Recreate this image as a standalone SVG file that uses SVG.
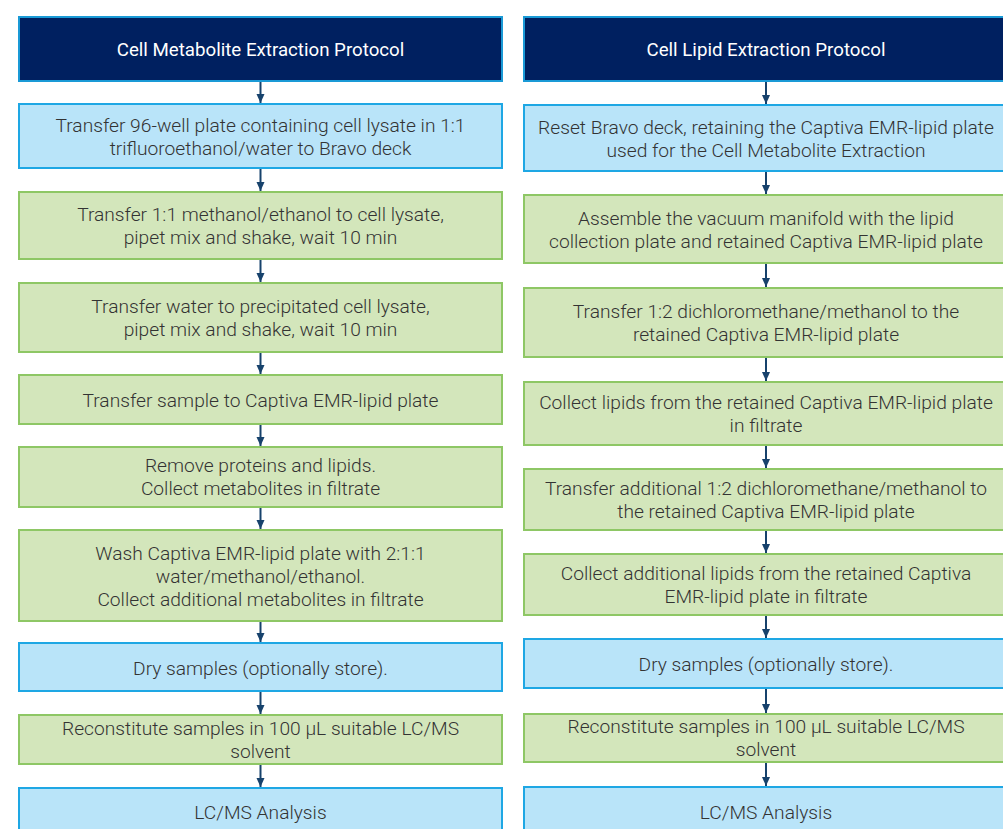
<svg xmlns="http://www.w3.org/2000/svg" width="1003" height="829" viewBox="0 0 1003 829">
<defs>
<style>
.hd{fill:#002060;stroke:#1a9ad6;stroke-width:2}
.bl{fill:#b9e4f9;stroke:#1ea7e4;stroke-width:2}
.gr{fill:#d3e6bb;stroke:#8ec765;stroke-width:2}
text{font-family:Roboto,"Liberation Sans",sans-serif;font-weight:300;font-size:19.2px;text-anchor:middle;fill:#333333}
.ht{fill:#ffffff;font-weight:400;font-size:18.7px}
.cn line{stroke:#17426c;stroke-width:2;marker-end:url(#ah)}
</style>
<marker id="ah" markerUnits="userSpaceOnUse" markerWidth="10" markerHeight="10" viewBox="0 0 10 10" refX="9" refY="5" orient="auto">
<path d="M0,1 L9,5 L0,9 Z" fill="#17426c"/>
</marker>
</defs>
<rect width="1003" height="829" fill="#ffffff"/>
<g id="connectors" class="cn">
<line x1="260.5" y1="82" x2="260.5" y2="103"/>
<line x1="260.5" y1="169" x2="260.5" y2="191"/>
<line x1="260.5" y1="260" x2="260.5" y2="282"/>
<line x1="260.5" y1="353" x2="260.5" y2="374"/>
<line x1="260.5" y1="425" x2="260.5" y2="446"/>
<line x1="260.5" y1="508" x2="260.5" y2="529"/>
<line x1="260.5" y1="622" x2="260.5" y2="642"/>
<line x1="260.5" y1="692" x2="260.5" y2="714"/>
<line x1="260.5" y1="765" x2="260.5" y2="787"/>
<line x1="766" y1="82" x2="766" y2="104"/>
<line x1="766" y1="172" x2="766" y2="194"/>
<line x1="766" y1="264" x2="766" y2="287"/>
<line x1="766" y1="358" x2="766" y2="381"/>
<line x1="766" y1="446" x2="766" y2="468"/>
<line x1="766" y1="531" x2="766" y2="553"/>
<line x1="766" y1="616" x2="766" y2="638"/>
<line x1="766" y1="689" x2="766" y2="713"/>
<line x1="766" y1="763" x2="766" y2="786"/>
</g>
<g id="L0"><rect class="hd" x="19" y="17" width="483" height="64"/><text class="ht" x="260.5" y="56">Cell Metabolite Extraction Protocol</text></g>
<g id="L1"><rect class="bl" x="19" y="104" width="483" height="64"/><text x="260.5" y="131.5">Transfer 96-well plate containing cell lysate in 1:1</text><text x="260.5" y="154.5">trifluoroethanol/water to Bravo deck</text></g>
<g id="L2"><rect class="gr" x="19" y="192" width="483" height="67"/><text x="260.5" y="221">Transfer 1:1 methanol/ethanol to cell lysate,</text><text x="260.5" y="244">pipet mix and shake, wait 10 min</text></g>
<g id="L3"><rect class="gr" x="19" y="283" width="483" height="69"/><text x="260.5" y="313">Transfer water to precipitated cell lysate,</text><text x="260.5" y="336">pipet mix and shake, wait 10 min</text></g>
<g id="L4"><rect class="gr" x="19" y="375" width="483" height="49"/><text x="260.5" y="407">Transfer sample to Captiva EMR-lipid plate</text></g>
<g id="L5"><rect class="gr" x="19" y="447" width="483" height="60"/><text x="260.5" y="472">Remove proteins and lipids.</text><text x="260.5" y="495">Collect metabolites in filtrate</text></g>
<g id="L6"><rect class="gr" x="19" y="530" width="483" height="91"/><text x="260.5" y="560">Wash Captiva EMR-lipid plate with 2:1:1</text><text x="260.5" y="583">water/methanol/ethanol.</text><text x="260.5" y="606">Collect additional metabolites in filtrate</text></g>
<g id="L7"><rect class="bl" x="19" y="643" width="483" height="48"/><text x="260.5" y="675">Dry samples (optionally store).</text></g>
<g id="L8"><rect class="gr" x="19" y="715" width="483" height="49"/><text x="260.5" y="735">Reconstitute samples in 100 µL suitable LC/MS</text><text x="260.5" y="758">solvent</text></g>
<g id="L9"><rect class="bl" x="19" y="788" width="483" height="50"/><text x="260.5" y="819">LC/MS Analysis</text></g>
<g id="R0"><rect class="hd" x="524" y="17" width="483" height="64"/><text class="ht" x="766" y="56">Cell Lipid Extraction Protocol</text></g>
<g id="R1"><rect class="bl" x="524" y="105" width="483" height="66"/><text x="766" y="133.5">Reset Bravo deck, retaining the Captiva EMR-lipid plate</text><text x="766" y="156.5">used for the Cell Metabolite Extraction</text></g>
<g id="R2"><rect class="gr" x="524" y="195" width="483" height="68"/><text x="766" y="224.5">Assemble the vacuum manifold with the lipid</text><text x="766" y="247.5">collection plate and retained Captiva EMR-lipid plate</text></g>
<g id="R3"><rect class="gr" x="524" y="288" width="483" height="69"/><text x="766" y="318">Transfer 1:2 dichloromethane/methanol to the</text><text x="766" y="341">retained Captiva EMR-lipid plate</text></g>
<g id="R4"><rect class="gr" x="524" y="382" width="483" height="63"/><text x="766" y="409">Collect lipids from the retained Captiva EMR-lipid plate</text><text x="766" y="432">in filtrate</text></g>
<g id="R5"><rect class="gr" x="524" y="469" width="483" height="61"/><text x="766" y="495">Transfer additional 1:2 dichloromethane/methanol to</text><text x="766" y="518">the retained Captiva EMR-lipid plate</text></g>
<g id="R6"><rect class="gr" x="524" y="554" width="483" height="61"/><text x="766" y="580">Collect additional lipids from the retained Captiva</text><text x="766" y="603">EMR-lipid plate in filtrate</text></g>
<g id="R7"><rect class="bl" x="524" y="639" width="483" height="49"/><text x="766" y="671">Dry samples (optionally store).</text></g>
<g id="R8"><rect class="gr" x="524" y="714" width="483" height="48"/><text x="766" y="733">Reconstitute samples in 100 µL suitable LC/MS</text><text x="766" y="756">solvent</text></g>
<g id="R9"><rect class="bl" x="524" y="787" width="483" height="50"/><text x="766" y="819">LC/MS Analysis</text></g>
</svg>
